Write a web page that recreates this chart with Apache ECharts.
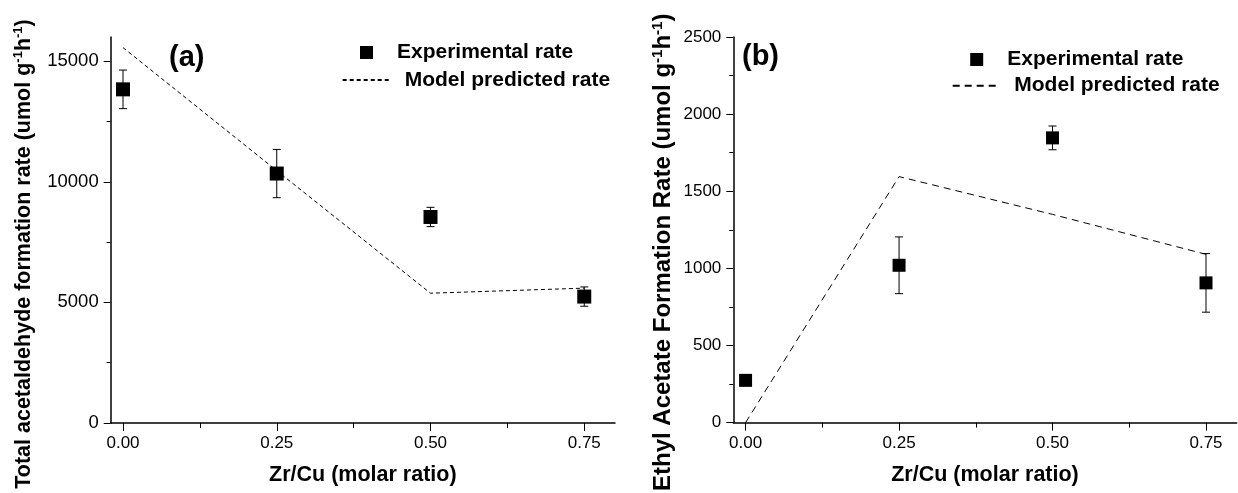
<!DOCTYPE html>
<html>
<head>
<meta charset="utf-8">
<script src="https://cdn.jsdelivr.net/npm/echarts@6/dist/echarts.min.js"></script>
<style>
html,body{margin:0;padding:0;background:#fff;}
#chart{width:1238px;height:493px;}
</style>
</head>
<body>
<div id="chart"></div>
<script>
// ---- data ----
const xVals = [0, 0.25, 0.5, 0.75];
const xTickLabels = [0, 0.25, 0.5, 0.75];
const xMinorTicks = [0.125, 0.375, 0.625];

// panel (a)
const expA = [13830, 10340, 8540, 5240];
const errA = [800, 1000, 400, 400];
const modelA = [15560, 10460, 5380, 5590];
const yTicksA = [0, 5000, 10000, 15000];
const yMinorA = [2500, 7500, 12500];

// panel (b)
const expB = [274, 1020, 1846, 906];
const errB = [30, 184, 77, 190];
const modelB = [0, 1595, 1350, 1091];
const yTicksB = [0, 500, 1000, 1500, 2000, 2500];
const yMinorB = [250, 750, 1250, 1750, 2250];

const legendExp = 'Experimental rate';
const legendModel = 'Model predicted rate';
const xTitle = 'Zr/Cu (molar ratio)';

const FONT = '"Liberation Sans", Arial, Helvetica, sans-serif';

const pairs = (xs, ys) => xs.map((x, i) => [x, ys[i]]);
const errData = (xs, ys, es) => xs.map((x, i) => [x, ys[i] - es[i], ys[i] + es[i]]);

function errRender(params, api) {
  const x = api.value(0), lo = api.value(1), hi = api.value(2);
  const pLo = api.coord([x, lo]);
  const pHi = api.coord([x, hi]);
  const hw = 4;
  const st = { stroke: '#000', lineWidth: 1 };
  return {
    type: 'group',
    children: [
      { type: 'line', shape: { x1: pLo[0], y1: pLo[1], x2: pHi[0], y2: pHi[1] }, style: st },
      { type: 'line', shape: { x1: pHi[0] - hw, y1: pHi[1], x2: pHi[0] + hw, y2: pHi[1] }, style: st },
      { type: 'line', shape: { x1: pLo[0] - hw, y1: pLo[1], x2: pLo[0] + hw, y2: pLo[1] }, style: st }
    ]
  };
}

function mainX(grid) {
  return {
    type: 'value', gridIndex: grid, position: 'bottom', min: -0.02, max: 0.8,
    axisLine: { show: true, onZero: false, lineStyle: { color: '#000', width: 1.5 } },
    axisTick: { show: true, inside: false, length: 8, customValues: xTickLabels, lineStyle: { color: '#000', width: 1 } },
    axisLabel: { show: true, customValues: xTickLabels, margin: 12, color: '#000', fontFamily: FONT, fontSize: 17,
      formatter: v => Number(v).toFixed(2) },
    splitLine: { show: false },
    name: xTitle, nameLocation: 'middle', nameGap: 41,
    nameTextStyle: { color: '#000', fontFamily: FONT, fontSize: 21.5, fontWeight: 'bold' }
  };
}
function minorX(grid) {
  return {
    type: 'value', gridIndex: grid, position: 'bottom', min: -0.02, max: 0.8,
    axisLine: { show: false, onZero: false },
    axisTick: { show: true, length: 5, customValues: xMinorTicks, lineStyle: { color: '#000', width: 1 } },
    axisLabel: { show: false },
    splitLine: { show: false }
  };
}
function mainY(grid, max, ticks, labelSize, nameText, nameSize, nameGap, padR) {
  return {
    type: 'value', gridIndex: grid, position: 'left', min: 0, max: max,
    axisLine: { show: true, onZero: false, lineStyle: { color: '#000', width: 1.5 } },
    axisTick: { show: true, length: 7, customValues: ticks, lineStyle: { color: '#000', width: 1 } },
    axisLabel: { show: true, customValues: ticks, margin: 12, color: '#000', fontFamily: FONT, fontSize: labelSize,
      formatter: v => String(Math.round(v)) },
    splitLine: { show: false },
    name: nameText, nameLocation: 'middle', nameRotate: 90, nameGap: nameGap,
    nameTextStyle: {
      color: '#000', fontFamily: FONT, fontSize: nameSize, fontWeight: 'bold', padding: [0, padR, 0, 0],
      rich: {
        m: { color: '#000', fontFamily: FONT, fontSize: nameSize, fontWeight: 'bold', lineHeight: nameSize + 2 },
        s: { color: '#000', fontFamily: FONT, fontSize: Math.round(nameSize * 0.62), fontWeight: 'bold', verticalAlign: 'top', lineHeight: nameSize + 2 }
      }
    }
  };
}
function minorY(grid, max, ticks) {
  return {
    type: 'value', gridIndex: grid, position: 'left', min: 0, max: max,
    axisLine: { show: false, onZero: false },
    axisTick: { show: true, length: 4, customValues: ticks, lineStyle: { color: '#000', width: 1 } },
    axisLabel: { show: false },
    splitLine: { show: false }
  };
}

const nameA = '{m|Total acetaldehyde formation rate (umol g}{s|-1}{m|h}{s|-1}{m|)}';
const nameB = '{m|Ethyl Acetate Formation Rate (umol g}{s|-1}{m|h}{s|-1}{m|)}';

const legendText = { color: '#000', fontFamily: FONT, fontSize: 21, fontWeight: 'bold', lineHeight: 22 };
const nameMap = { expA: legendExp, expB: legendExp, modelA: legendModel, modelB: legendModel };

function expLegend(name, left, top) {
  return {
    data: [name], left: left, top: top, padding: 0, orient: 'horizontal',
    itemWidth: 13, itemHeight: 13, selectedMode: false,
    formatter: n => nameMap[n],
    textStyle: Object.assign({ padding: [0, 0, 0, 19] }, legendText)
  };
}
function modelLegend(name, left, top, w, padL) {
  return {
    data: [name], left: left, top: top, padding: 0, orient: 'horizontal',
    itemWidth: w, itemHeight: 2, selectedMode: false,
    itemStyle: { opacity: 0 },
    formatter: n => nameMap[n],
    textStyle: Object.assign({ padding: [0, 0, 0, padL] }, legendText)
  };
}

const option = {
  backgroundColor: '#fff',
  animation: false,
  title: [
    { text: '(a)', left: 169, top: 43, padding: 0, textStyle: { color: '#000', fontFamily: FONT, fontSize: 29, fontWeight: 'bold' } },
    { text: '(b)', left: 742, top: 42, padding: 0, textStyle: { color: '#000', fontFamily: FONT, fontSize: 29, fontWeight: 'bold' } }
  ],
  legend: [
    expLegend('expA', 360, 41.5),
    modelLegend('modelA', 341.7, 69, 49, 8),
    expLegend('expB', 970.2, 48.5),
    modelLegend('modelB', 951.7, 74.7, 45, 11.6)
  ],
  grid: [
    { left: 110.7, top: 37, width: 504.3, height: 386 },
    { left: 733.3, top: 37, width: 503.4, height: 386 }
  ],
  xAxis: [mainX(0), minorX(0), mainX(1), minorX(1)],
  yAxis: [
    mainY(0, 16000, yTicksA, 18.5, nameA, 21.5, 75, 48),
    minorY(0, 16000, yMinorA),
    mainY(1, 2500, yTicksB, 17, nameB, 24, 57, 45),
    minorY(1, 2500, yMinorB)
  ],
  series: [
    { name: 'modelA', type: 'line', xAxisIndex: 0, yAxisIndex: 0, data: pairs(xVals, modelA),
      symbol: 'none', lineStyle: { color: '#000', width: 1, type: [4, 3] }, itemStyle: { color: '#000' }, z: 2 },
    { name: 'errA', type: 'custom', xAxisIndex: 0, yAxisIndex: 0, data: errData(xVals, expA, errA),
      encode: { x: 0, y: [1, 2] }, renderItem: errRender, z: 3 },
    { name: 'expA', type: 'scatter', xAxisIndex: 0, yAxisIndex: 0, data: pairs(xVals, expA),
      symbol: 'rect', symbolSize: 14, itemStyle: { color: '#000', opacity: 1 }, z: 4 },

    { name: 'modelB', type: 'line', xAxisIndex: 2, yAxisIndex: 2, data: pairs(xVals, modelB),
      symbol: 'none', lineStyle: { color: '#000', width: 1, type: [7, 5] }, itemStyle: { color: '#000' }, z: 2 },
    { name: 'errB', type: 'custom', xAxisIndex: 2, yAxisIndex: 2, data: errData(xVals, expB, errB),
      encode: { x: 0, y: [1, 2] }, renderItem: errRender, z: 3 },
    { name: 'expB', type: 'scatter', xAxisIndex: 2, yAxisIndex: 2, data: pairs(xVals, expB),
      symbol: 'rect', symbolSize: 13, itemStyle: { color: '#000', opacity: 1 }, z: 4 }
  ]
};

const chart = echarts.init(document.getElementById('chart'), null, { renderer: 'canvas' });
chart.setOption(option);
</script>
</body>
</html>
